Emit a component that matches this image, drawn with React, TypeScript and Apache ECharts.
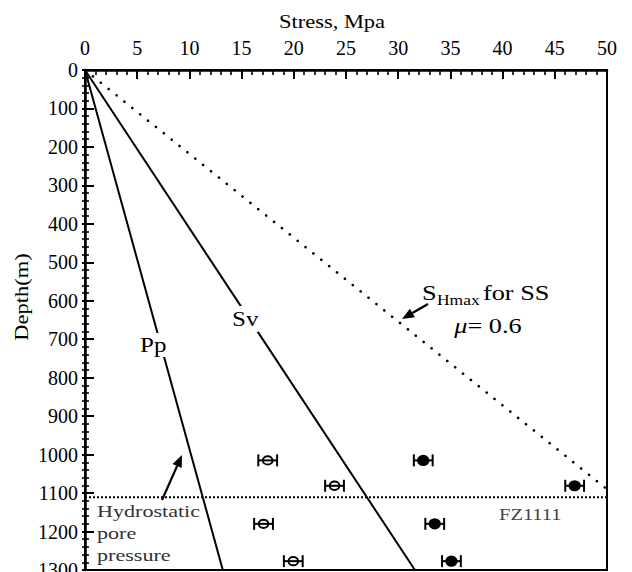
import React, { useEffect, useRef } from "react";
import * as echarts from "echarts";

// Stress (MPa) vs depth (m) lines
const ppLine = [[0, 0], [13.2, 1300]];
const svLine = [[0, 0], [31.6, 1300]];
const shmaxLine = [[0, 0], [50, 1090]];
const faultDepth = 1111;
const faultLine = [[0, faultDepth], [50, faultDepth]];

// measured points
const sampleDepths = [1015, 1081, 1180, 1277];
const openStress = [17.5, 23.9, 17.1, 19.95];
const openErr = [0.9, 0.9, 0.9, 0.9];
const filledStress = [32.4, 46.9, 33.5, 35.1];
const filledErr = [0.9, 0.9, 0.9, 0.9];

const FONT = "Liberation Serif";

function arrow(x1: number, y1: number, x2: number, y2: number, len = 12, w = 5) {
  const a = Math.atan2(y2 - y1, x2 - x1);
  const bx = x2 - len * Math.cos(a);
  const by = y2 - len * Math.sin(a);
  return [
    { type: "line", z: 100, shape: { x1, y1, x2: bx, y2: by }, style: { stroke: "#000", lineWidth: 2.2 } },
    {
      type: "polygon",
      z: 100,
      shape: {
        points: [
          [x2, y2],
          [bx + w * Math.sin(a), by - w * Math.cos(a)],
          [bx - w * Math.sin(a), by + w * Math.cos(a)],
        ],
      },
      style: { fill: "#000" },
    },
  ];
}

function makeErrSeries(xs: number[], errs: number[], filled: boolean) {
  return {
    type: "custom",
    z: 5,
    data: xs.map((x, i) => [x, sampleDepths[i], errs[i]]),
    renderItem: (params: any, api: any) => {
      const x = api.value(0);
      const y = api.value(1);
      const e = api.value(2);
      const c = api.coord([x, y]);
      const lo = api.coord([x - e, y]);
      const hi = api.coord([x + e, y]);
      const st = { stroke: "#000", lineWidth: 2 };
      return {
        type: "group",
        children: [
          { type: "line", shape: { x1: lo[0], y1: c[1], x2: hi[0], y2: c[1] }, style: st },
          { type: "line", shape: { x1: lo[0], y1: c[1] - 6, x2: lo[0], y2: c[1] + 6 }, style: st },
          { type: "line", shape: { x1: hi[0], y1: c[1] - 6, x2: hi[0], y2: c[1] + 6 }, style: st },
          {
            type: "ellipse",
            shape: { cx: c[0], cy: c[1], rx: filled ? 5.2 : 4.8, ry: filled ? 4.6 : 4.2 },
            style: { fill: filled ? "#000" : "none", stroke: "#000", lineWidth: 2 },
          },
        ],
      };
    },
  };
}

export default function App() {
  const ref = useRef<HTMLDivElement>(null);
  useEffect(() => {
    if (!ref.current) return;
    const chart = echarts.init(ref.current, undefined, { renderer: "svg" });
    const txt = (text: string, x: number, y: number, size: number, sx: number, extra: any = {}) => ({
      type: "text",
      z: 100,
      x,
      y,
      scaleX: sx,
      style: {
        text,
        fontFamily: FONT,
        fontSize: size,
        fill: "#000",
        align: "left",
        verticalAlign: "middle",
        ...extra,
      },
    });
    const option: any = {
      animation: false,
      backgroundColor: "#fff",
      grid: {
        left: 85,
        right: 25,
        top: 70,
        bottom: 2,
        containLabel: false,
        outerBoundsMode: "none",
        show: true,
        borderColor: "#000",
        borderWidth: 2,
      },
      xAxis: {
        type: "value",
        position: "top",
        min: 0,
        max: 50,
        interval: 5,
        axisLine: { show: true, lineStyle: { color: "#000", width: 2.5 } },
        axisTick: { show: true, inside: true, length: 9, lineStyle: { color: "#000", width: 2 } },
        minorTick: { show: true, splitNumber: 5, length: 5, lineStyle: { color: "#000", width: 1.6 } },
        axisLabel: { margin: 12, fontFamily: FONT, fontSize: 20, color: "#000" },
        splitLine: { show: false },
      },
      yAxis: [
        {
          type: "value",
          inverse: true,
          min: 0,
          max: 1300,
          interval: 100,
          axisLine: { show: true, lineStyle: { color: "#000", width: 2.5 } },
          axisTick: { show: true, inside: true, length: 9, lineStyle: { color: "#000", width: 2 } },
          minorTick: { show: true, splitNumber: 5, length: 4, lineStyle: { color: "#000", width: 1.6 } },
          axisLabel: {
            margin: 7,
            fontFamily: FONT,
            fontSize: 20,
            color: "#000",
            formatter: (v: number) => String(v),
          },
          splitLine: { show: false },
        },
        {
          type: "value",
          inverse: true,
          min: 0,
          max: 1300,
          interval: 100,
          position: "left",
          axisLine: { show: false },
          axisTick: { show: true, inside: false, length: 3, lineStyle: { color: "#000", width: 2 } },
          minorTick: { show: true, splitNumber: 5, length: 3, lineStyle: { color: "#000", width: 1.6 } },
          axisLabel: { show: false },
          splitLine: { show: false },
        },
      ],
      series: [
        {
          type: "line",
          data: ppLine,
          symbol: "none",
          lineStyle: { color: "#000", width: 2 },
        },
        {
          type: "line",
          data: svLine,
          symbol: "none",
          lineStyle: { color: "#000", width: 2 },
        },
        {
          type: "line",
          data: shmaxLine,
          symbol: "none",
          lineStyle: { color: "#000", width: 2.6, type: [0.1, 10], cap: "round" },
        },
        {
          type: "line",
          data: faultLine,
          symbol: "none",
          lineStyle: { color: "#000", width: 2, type: [2, 2] },
        },
        makeErrSeries(openStress, openErr, false),
        makeErrSeries(filledStress, filledErr, true),
      ],
      graphic: [
        txt("Stress, Mpa", 332, 22, 18, 1.25, { align: "center" }),
        {
          type: "text",
          z: 100,
          x: 22,
          y: 297,
          rotation: Math.PI / 2,
          scaleX: 1.25,
          style: { text: "Depth(m)", fontFamily: FONT, fontSize: 18, fill: "#000", align: "center", verticalAlign: "middle" },
        },
        txt("Pp", 140, 345, 20, 1.25, { backgroundColor: "#fff", padding: [2, 0, 2, 0] }),
        txt("Sv", 232, 319, 20, 1.25, { backgroundColor: "#fff", padding: [3, 0, 3, 0] }),
        txt("S", 422, 293, 21, 1.25),
        txt("Hmax", 437, 300, 14, 1.25),
        txt("for SS", 483, 293, 21, 1.25),
        {
          type: "text",
          z: 100,
          x: 488,
          y: 326,
          scaleX: 1.25,
          style: {
            text: "{i|μ}= 0.6",
            fontFamily: FONT,
            fontSize: 21,
            fill: "#000",
            align: "center",
            verticalAlign: "middle",
            rich: { i: { fontFamily: FONT, fontSize: 21, fontStyle: "italic", fill: "#000" } },
          },
        },
        txt("Hydrostatic", 97, 511, 17, 1.3, { fill: "#333" }),
        txt("pore", 97, 533, 17, 1.3, { fill: "#333" }),
        txt("pressure", 97, 555, 17, 1.3, { fill: "#333" }),
        txt("FZ1111", 499, 515, 16, 1.28, { fill: "#444" }),
        ...arrow(162, 500, 182, 455),
        ...arrow(428, 304, 402, 319),
      ],
    };
    chart.setOption(option);
    return () => chart.dispose();
  }, []);
  return (
    <div
      ref={ref}
      style={{ position: "fixed", left: 0, top: 0, width: 632, height: 572, background: "#fff" }}
    />
  );
}
